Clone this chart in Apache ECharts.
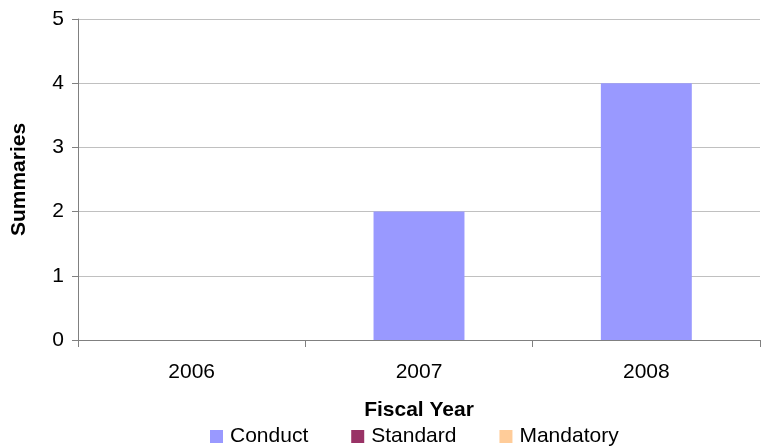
<!DOCTYPE html>
<html><head><meta charset="utf-8">
<script src="https://cdn.jsdelivr.net/npm/echarts@6/dist/echarts.min.js"></script>
<style>html,body{margin:0;padding:0;background:#fff}#c{width:767px;height:447px}</style>
</head><body><div id="c"></div>
<script>
var categories = ['2006', '2007', '2008'];
var conduct = [0, 2, 4];
var standard = [0, 0, 0];
var mandatory = [0, 0, 0];
var yTicks = [0, 1, 2, 3, 4, 5];

var font = 'Arial, "Liberation Sans", sans-serif';
var chart = echarts.init(document.getElementById('c'));
chart.setOption({
  animation: false,
  textStyle: { fontFamily: font },
  grid: { left: 78, right: 7, top: 19, bottom: 107, containLabel: false },
  legend: {
    top: 421, left: 205,
    itemWidth: 13, itemHeight: 13, itemGap: 43,
    icon: 'rect',
    textStyle: { fontSize: 21, color: '#000', fontFamily: font, padding: [0, 0, 0, 2] },
    data: ['Conduct', 'Standard', 'Mandatory']
  },
  xAxis: {
    type: 'category', data: categories,
    name: 'Fiscal Year', nameLocation: 'middle', nameGap: 60,
    nameTextStyle: { fontSize: 21, fontWeight: 'bold', color: '#000', fontFamily: font },
    axisLine: { lineStyle: { color: '#808080' } },
    axisTick: { show: true, length: 7, lineStyle: { color: '#808080' } },
    axisLabel: { fontSize: 21, color: '#000', margin: 22, fontFamily: font },
    splitLine: { show: false }
  },
  yAxis: {
    type: 'value', min: yTicks[0], max: yTicks[yTicks.length - 1], interval: 1,
    name: 'Summaries', nameLocation: 'middle', nameGap: 48, nameRotate: 90,
    nameTextStyle: { fontSize: 21, fontWeight: 'bold', color: '#000', fontFamily: font },
    axisLine: { show: true, lineStyle: { color: '#808080' } },
    axisTick: { show: true, length: 6, lineStyle: { color: '#808080' } },
    axisLabel: { fontSize: 21, color: '#000', margin: 14, fontFamily: font },
    splitLine: { show: true, lineStyle: { color: '#c0c0c0', width: 1 } }
  },
  series: [
    { name: 'Conduct', type: 'bar', stack: 's', data: conduct, barWidth: '40%', itemStyle: { color: '#9999FF' } },
    { name: 'Standard', type: 'bar', stack: 's', data: standard, barWidth: '40%', itemStyle: { color: '#993366' } },
    { name: 'Mandatory', type: 'bar', stack: 's', data: mandatory, barWidth: '40%', itemStyle: { color: '#FFCC99' } }
  ]
});
</script></body></html>
